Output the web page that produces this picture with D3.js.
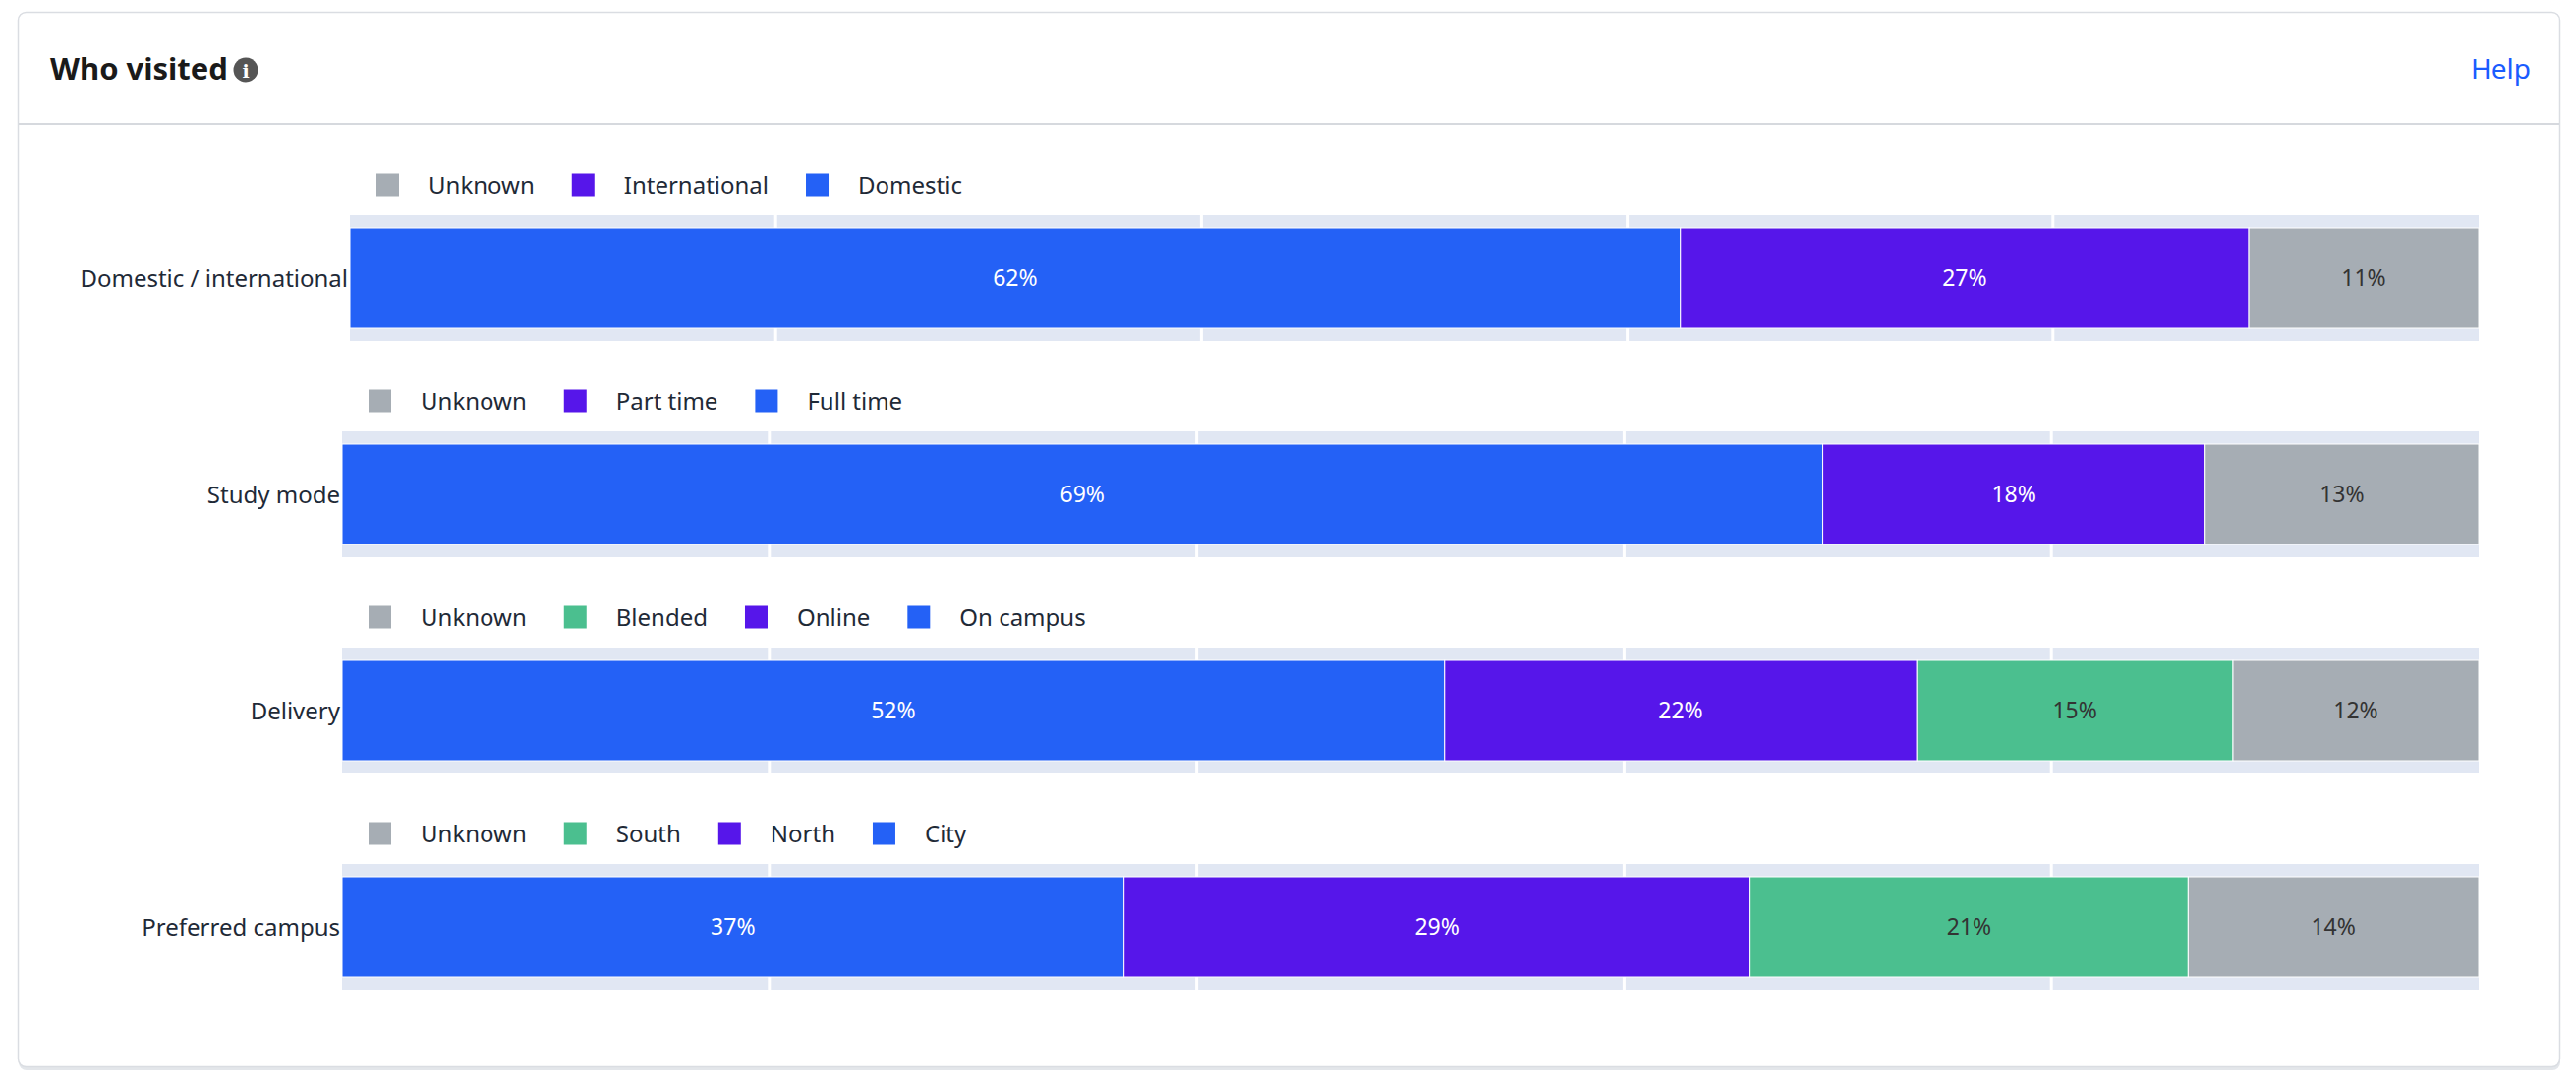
<!DOCTYPE html>
<html>
<head>
<meta charset="utf-8">
<script src="https://cdn.jsdelivr.net/npm/d3@7"></script>
<style>
  body { margin: 0; background: #fff; font-family: "Noto Sans", "Open Sans", sans-serif; }
</style>
</head>
<body>
<script>
// rows of the chart
var categories = ["Domestic / international", "Study mode", "Delivery", "Preferred campus"];
var segmentNames = [
  ["Domestic", "International", "Unknown"],
  ["Full time", "Part time", "Unknown"],
  ["On campus", "Online", "Blended", "Unknown"],
  ["City", "North", "South", "Unknown"]
];
var segmentValues = [
  [62.5, 26.7, 10.8],
  [69.3, 17.9, 12.8],
  [51.6, 22.1, 14.8, 11.5],
  [36.6, 29.3, 20.5, 13.6]
];
var segmentLabels = [
  ["62%", "27%", "11%"],
  ["69%", "18%", "13%"],
  ["52%", "22%", "15%", "12%"],
  ["37%", "29%", "21%", "14%"]
];
var gridTicks = [20, 40, 60, 80];

var colorOf = {
  "Domestic": "#2461f6", "Full time": "#2461f6", "On campus": "#2461f6", "City": "#2461f6",
  "International": "#5616ea", "Part time": "#5616ea", "Online": "#5616ea", "North": "#5616ea",
  "Blended": "#4bbf8f", "South": "#4bbf8f",
  "Unknown": "#a6adb4"
};
var darkText = { "#4bbf8f": true, "#a6adb4": true };

var W = 2621, H = 1107;
var svg = d3.select("body").append("svg").attr("width", W).attr("height", H);

// card
svg.append("rect").attr("x", 19).attr("y", 14).attr("width", 2586).attr("height", 1075)
  .attr("rx", 8).attr("fill", "#e3e6ea");
svg.append("rect").attr("x", 18.5).attr("y", 12.5).attr("width", 2586).attr("height", 1073)
  .attr("rx", 8).attr("fill", "#fff").attr("stroke", "#dadde2").attr("stroke-width", 1.5);
svg.append("line").attr("x1", 19).attr("x2", 2604).attr("y1", 126).attr("y2", 126)
  .attr("stroke", "#d6d9de").attr("stroke-width", 2);

svg.append("text").attr("x", 51).attr("y", 81).attr("font-size", 31).attr("font-weight", 700)
  .attr("fill", "#1a1a1a").text("Who visited");
var info = svg.append("g").attr("transform", "translate(250,71)");
info.append("circle").attr("r", 12.5).attr("fill", "#555");
info.append("text").attr("text-anchor", "middle").attr("y", 7.5).attr("font-size", 19)
  .attr("font-weight", 700).attr("fill", "#fff").attr("font-family", "DejaVu Serif").text("i");

svg.append("text").attr("x", 2575).attr("y", 80).attr("text-anchor", "end").attr("font-size", 28)
  .attr("fill", "#1a5cff").text("Help");

var plotRight = 2522;
var rowTop = [219, 439, 659, 879];
var plotLeft = [356, 348, 348, 348];
var bandH = 128, barTop = 13, barH = 102;

categories.forEach(function (cat, i) {
  var g = svg.append("g").attr("transform", "translate(0," + rowTop[i] + ")");
  var x = d3.scaleLinear().domain([0, 100]).range([plotLeft[i], plotRight]);

  g.append("rect").attr("x", x(0)).attr("y", 0).attr("width", x(100) - x(0)).attr("height", bandH)
    .attr("fill", "#e1e7f3");
  g.selectAll("line.grid").data(gridTicks).enter().append("line")
    .attr("x1", function (d) { return x(d); }).attr("x2", function (d) { return x(d); })
    .attr("y1", 0).attr("y2", bandH).attr("stroke", "#fff").attr("stroke-width", 3);

  var vals = segmentValues[i];
  var starts = [];
  var acc = 0;
  vals.forEach(function (v) { starts.push(acc); acc += v; });
  var segs = vals.map(function (v, j) {
    return { name: segmentNames[i][j], v: v, s: starts[j], label: segmentLabels[i][j] };
  });

  g.selectAll("rect.seg").data(segs).enter().append("rect")
    .attr("x", function (d) { return x(d.s); })
    .attr("y", barTop)
    .attr("width", function (d) { return x(d.s + d.v) - x(d.s); })
    .attr("height", barH)
    .attr("fill", function (d) { return colorOf[d.name]; })
    .attr("stroke", "#fff").attr("stroke-width", 1);

  g.selectAll("text.seg").data(segs).enter().append("text")
    .attr("x", function (d) { return x(d.s + d.v / 2); })
    .attr("y", barTop + barH / 2 + 8)
    .attr("text-anchor", "middle").attr("font-size", 23)
    .attr("fill", function (d) { return darkText[colorOf[d.name]] ? "#333" : "#fff"; })
    .text(function (d) { return d.label; });

  g.append("text").attr("x", plotLeft[i] - 2).attr("y", barTop + barH / 2 + 9)
    .attr("text-anchor", "end").attr("font-size", 24).attr("fill", "#1f2a37").text(cat);

  // legend, reversed order
  var items = segmentNames[i].slice().reverse();
  var lx = plotLeft[i] + 27;
  var lg = g.append("g").attr("transform", "translate(0,-31)");
  items.forEach(function (name) {
    lg.append("rect").attr("x", lx).attr("y", -11.5).attr("width", 23).attr("height", 23)
      .attr("fill", colorOf[name]);
    var t = lg.append("text").attr("x", lx + 53).attr("y", 9).attr("font-size", 24)
      .attr("fill", "#1f2a37").text(name);
    lx += 53 + t.node().getComputedTextLength() + 38;
  });
});
</script>
</body>
</html>
